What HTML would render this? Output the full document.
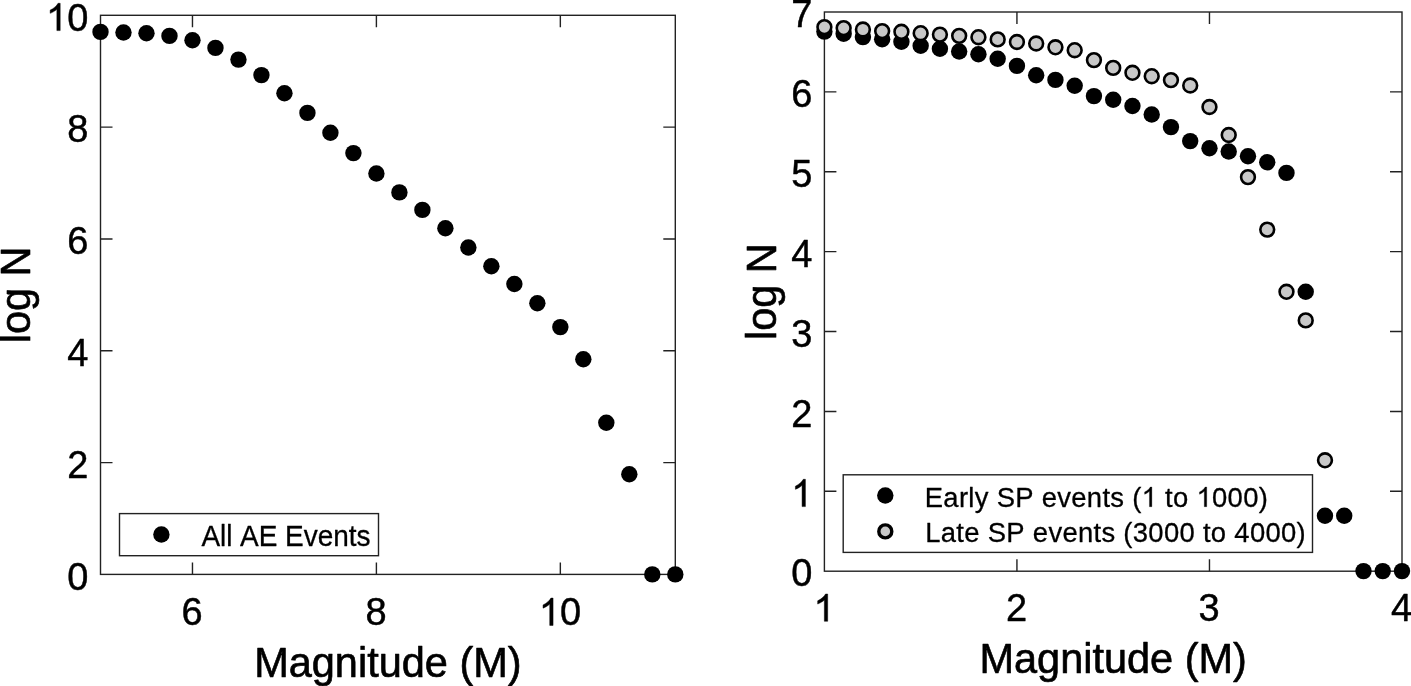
<!DOCTYPE html><html><head><meta charset="utf-8"><style>
html,body{margin:0;padding:0;background:#fff;overflow:hidden;}
svg{display:block;will-change:transform;}
text{font-family:"Liberation Sans",sans-serif;fill:#000;font-kerning:none;stroke-linejoin:round;}
</style></head><body>
<svg width="1411" height="686" viewBox="0 0 1411 686">
<rect width="1411" height="686" fill="#fff"/>
<rect x="100.5" y="15.3" width="574.80" height="559.10" fill="none" stroke="#222" stroke-width="1.4"/>
<path d="M192.47 574.4V562.4M192.47 15.3V27.3M376.40 574.4V562.4M376.40 15.3V27.3M560.34 574.4V562.4M560.34 15.3V27.3M100.5 462.58H112.5M675.3 462.58H663.3M100.5 350.76H112.5M675.3 350.76H663.3M100.5 238.94H112.5M675.3 238.94H663.3M100.5 127.12H112.5M675.3 127.12H663.3" stroke="#222" stroke-width="1.4" fill="none"/>
<text id="t0" x="88.3" y="589.70" transform="translate(0 589.70) scale(1 1.015) translate(0 -589.70)" font-size="38" stroke="#000" stroke-width="0.443" text-anchor="end">0</text>
<text id="t1" x="88.3" y="477.88" transform="translate(0 477.88) scale(1 1.015) translate(0 -477.88)" font-size="38" stroke="#000" stroke-width="0.443" text-anchor="end">2</text>
<text id="t2" x="88.3" y="366.06" transform="translate(0 366.06) scale(1 1.015) translate(0 -366.06)" font-size="38" stroke="#000" stroke-width="0.443" text-anchor="end">4</text>
<text id="t3" x="88.3" y="254.24" transform="translate(0 254.24) scale(1 1.015) translate(0 -254.24)" font-size="38" stroke="#000" stroke-width="0.443" text-anchor="end">6</text>
<text id="t4" x="88.3" y="142.42" transform="translate(0 142.42) scale(1 1.015) translate(0 -142.42)" font-size="38" stroke="#000" stroke-width="0.443" text-anchor="end">8</text>
<text id="t5" x="88.3" y="30.60" transform="translate(0 30.60) scale(1 1.015) translate(0 -30.60)" font-size="38" stroke="#000" stroke-width="0.443" text-anchor="end"> 0</text>
<text id="t6" x="192.17" y="625.4" transform="translate(0 625.4) scale(1 1.015) translate(0 -625.40)" font-size="38" stroke="#000" stroke-width="0.443" text-anchor="middle">6</text>
<text id="t7" x="376.10" y="625.4" transform="translate(0 625.4) scale(1 1.015) translate(0 -625.40)" font-size="38" stroke="#000" stroke-width="0.443" text-anchor="middle">8</text>
<text id="t8" x="560.04" y="625.4" transform="translate(0 625.4) scale(1 1.015) translate(0 -625.40)" font-size="38" stroke="#000" stroke-width="0.443" text-anchor="middle"> 0</text>
<text id="t9" x="387.90" y="676.9" transform="translate(0 676.9) scale(1 1.03) translate(0 -676.90)" font-size="41.5" stroke="#000" stroke-width="0.631" text-anchor="middle">Magnitude (M)</text>
<text id="t10" x="0" y="0" transform="translate(30.4 294.85) rotate(-90) scale(1 1.03)" font-size="41.5" stroke="#000" stroke-width="0.631" text-anchor="middle">log N</text>
<circle cx="100.50" cy="31.9" r="8.2" fill="#000"/>
<circle cx="123.49" cy="32.5" r="8.2" fill="#000"/>
<circle cx="146.48" cy="33.3" r="8.2" fill="#000"/>
<circle cx="169.48" cy="35.9" r="8.2" fill="#000"/>
<circle cx="192.47" cy="40.3" r="8.2" fill="#000"/>
<circle cx="215.46" cy="47.9" r="8.2" fill="#000"/>
<circle cx="238.45" cy="59.6" r="8.2" fill="#000"/>
<circle cx="261.44" cy="75.1" r="8.2" fill="#000"/>
<circle cx="284.44" cy="93.2" r="8.2" fill="#000"/>
<circle cx="307.43" cy="112.9" r="8.2" fill="#000"/>
<circle cx="330.42" cy="132.7" r="8.2" fill="#000"/>
<circle cx="353.41" cy="153.1" r="8.2" fill="#000"/>
<circle cx="376.40" cy="173.5" r="8.2" fill="#000"/>
<circle cx="399.40" cy="192.4" r="8.2" fill="#000"/>
<circle cx="422.39" cy="209.9" r="8.2" fill="#000"/>
<circle cx="445.38" cy="228.3" r="8.2" fill="#000"/>
<circle cx="468.37" cy="247.5" r="8.2" fill="#000"/>
<circle cx="491.36" cy="266.2" r="8.2" fill="#000"/>
<circle cx="514.36" cy="284.0" r="8.2" fill="#000"/>
<circle cx="537.35" cy="303.3" r="8.2" fill="#000"/>
<circle cx="560.34" cy="327.1" r="8.2" fill="#000"/>
<circle cx="583.33" cy="359.3" r="8.2" fill="#000"/>
<circle cx="606.32" cy="422.8" r="8.2" fill="#000"/>
<circle cx="629.32" cy="474.3" r="8.2" fill="#000"/>
<circle cx="652.31" cy="574.4" r="8.2" fill="#000"/>
<circle cx="675.30" cy="574.4" r="8.2" fill="#000"/>
<rect x="119.5" y="513.6" width="259" height="42.1" fill="#fff" stroke="#222" stroke-width="1.4"/>
<circle cx="161.4" cy="534.5" r="8.2" fill="#000"/>
<text id="t11" x="201.4" y="546" transform="translate(0 546) scale(1 1.028) translate(0 -546.00)" font-size="28" stroke="#000" stroke-width="0.292" textLength="169" lengthAdjust="spacing">All AE Events</text>
<rect x="824.4" y="12.0" width="577.60" height="559.20" fill="none" stroke="#222" stroke-width="1.4"/>
<path d="M1016.93 571.2V559.2M1016.93 12.0V24.0M1209.47 571.2V559.2M1209.47 12.0V24.0M824.4 491.31H836.4M1402.0 491.31H1390.0M824.4 411.43H836.4M1402.0 411.43H1390.0M824.4 331.54H836.4M1402.0 331.54H1390.0M824.4 251.66H836.4M1402.0 251.66H1390.0M824.4 171.77H836.4M1402.0 171.77H1390.0M824.4 91.89H836.4M1402.0 91.89H1390.0" stroke="#222" stroke-width="1.4" fill="none"/>
<text id="t12" x="812.4" y="586.50" transform="translate(0 586.50) scale(1 1.015) translate(0 -586.50)" font-size="38" stroke="#000" stroke-width="0.443" text-anchor="end">0</text>
<text id="t13" x="812.4" y="506.61" transform="translate(0 506.61) scale(1 1.015) translate(0 -506.61)" font-size="38" stroke="#000" stroke-width="0.443" text-anchor="end"> </text>
<text id="t14" x="812.4" y="426.73" transform="translate(0 426.73) scale(1 1.015) translate(0 -426.73)" font-size="38" stroke="#000" stroke-width="0.443" text-anchor="end">2</text>
<text id="t15" x="812.4" y="346.84" transform="translate(0 346.84) scale(1 1.015) translate(0 -346.84)" font-size="38" stroke="#000" stroke-width="0.443" text-anchor="end">3</text>
<text id="t16" x="812.4" y="266.96" transform="translate(0 266.96) scale(1 1.015) translate(0 -266.96)" font-size="38" stroke="#000" stroke-width="0.443" text-anchor="end">4</text>
<text id="t17" x="812.4" y="187.07" transform="translate(0 187.07) scale(1 1.015) translate(0 -187.07)" font-size="38" stroke="#000" stroke-width="0.443" text-anchor="end">5</text>
<text id="t18" x="812.4" y="107.19" transform="translate(0 107.19) scale(1 1.015) translate(0 -107.19)" font-size="38" stroke="#000" stroke-width="0.443" text-anchor="end">6</text>
<text id="t19" x="812.4" y="27.30" transform="translate(0 27.30) scale(1 1.015) translate(0 -27.30)" font-size="38" stroke="#000" stroke-width="0.443" text-anchor="end">7</text>
<text id="t20" x="824.10" y="621.3" transform="translate(0 621.3) scale(1 1.015) translate(0 -621.30)" font-size="38" stroke="#000" stroke-width="0.443" text-anchor="middle"> </text>
<text id="t21" x="1016.63" y="621.3" transform="translate(0 621.3) scale(1 1.015) translate(0 -621.30)" font-size="38" stroke="#000" stroke-width="0.443" text-anchor="middle">2</text>
<text id="t22" x="1209.17" y="621.3" transform="translate(0 621.3) scale(1 1.015) translate(0 -621.30)" font-size="38" stroke="#000" stroke-width="0.443" text-anchor="middle">3</text>
<text id="t23" x="1401.70" y="621.3" transform="translate(0 621.3) scale(1 1.015) translate(0 -621.30)" font-size="38" stroke="#000" stroke-width="0.443" text-anchor="middle">4</text>
<text id="t24" x="1113.20" y="673.3" transform="translate(0 673.3) scale(1 1.03) translate(0 -673.30)" font-size="41.5" stroke="#000" stroke-width="0.631" text-anchor="middle">Magnitude (M)</text>
<text id="t25" x="0" y="0" transform="translate(775.6 291.60) rotate(-90) scale(1 1.03)" font-size="41.5" stroke="#000" stroke-width="0.631" text-anchor="middle">log N</text>
<circle cx="824.40" cy="31.6" r="8.2" fill="#000"/>
<circle cx="843.65" cy="33.7" r="8.2" fill="#000"/>
<circle cx="862.91" cy="37.1" r="8.2" fill="#000"/>
<circle cx="882.16" cy="39.2" r="8.2" fill="#000"/>
<circle cx="901.41" cy="41.8" r="8.2" fill="#000"/>
<circle cx="920.67" cy="45.7" r="8.2" fill="#000"/>
<circle cx="939.92" cy="48.8" r="8.2" fill="#000"/>
<circle cx="959.17" cy="51.5" r="8.2" fill="#000"/>
<circle cx="978.43" cy="54.3" r="8.2" fill="#000"/>
<circle cx="997.68" cy="58.7" r="8.2" fill="#000"/>
<circle cx="1016.93" cy="65.9" r="8.2" fill="#000"/>
<circle cx="1036.19" cy="75.3" r="8.2" fill="#000"/>
<circle cx="1055.44" cy="79.9" r="8.2" fill="#000"/>
<circle cx="1074.69" cy="85.7" r="8.2" fill="#000"/>
<circle cx="1093.95" cy="96.1" r="8.2" fill="#000"/>
<circle cx="1113.20" cy="99.7" r="8.2" fill="#000"/>
<circle cx="1132.45" cy="106.0" r="8.2" fill="#000"/>
<circle cx="1151.71" cy="114.5" r="8.2" fill="#000"/>
<circle cx="1170.96" cy="127.1" r="8.2" fill="#000"/>
<circle cx="1190.21" cy="141.1" r="8.2" fill="#000"/>
<circle cx="1209.47" cy="148.3" r="8.2" fill="#000"/>
<circle cx="1228.72" cy="151.5" r="8.2" fill="#000"/>
<circle cx="1247.97" cy="156.2" r="8.2" fill="#000"/>
<circle cx="1267.23" cy="162.3" r="8.2" fill="#000"/>
<circle cx="1286.48" cy="172.9" r="8.2" fill="#000"/>
<circle cx="1305.73" cy="291.8" r="8.2" fill="#000"/>
<circle cx="1324.99" cy="515.8" r="8.2" fill="#000"/>
<circle cx="1344.24" cy="515.8" r="8.2" fill="#000"/>
<circle cx="1363.49" cy="571.1" r="8.2" fill="#000"/>
<circle cx="1382.75" cy="571.1" r="8.2" fill="#000"/>
<circle cx="1402.00" cy="571.1" r="8.2" fill="#000"/>
<circle cx="824.40" cy="27.1" r="6.8999999999999995" fill="#c8c8c8" stroke="#000" stroke-width="2.6"/>
<circle cx="843.65" cy="28.1" r="6.8999999999999995" fill="#c8c8c8" stroke="#000" stroke-width="2.6"/>
<circle cx="862.91" cy="29.5" r="6.8999999999999995" fill="#c8c8c8" stroke="#000" stroke-width="2.6"/>
<circle cx="882.16" cy="31.1" r="6.8999999999999995" fill="#c8c8c8" stroke="#000" stroke-width="2.6"/>
<circle cx="901.41" cy="31.8" r="6.8999999999999995" fill="#c8c8c8" stroke="#000" stroke-width="2.6"/>
<circle cx="920.67" cy="33.2" r="6.8999999999999995" fill="#c8c8c8" stroke="#000" stroke-width="2.6"/>
<circle cx="939.92" cy="34.6" r="6.8999999999999995" fill="#c8c8c8" stroke="#000" stroke-width="2.6"/>
<circle cx="959.17" cy="35.85" r="6.8999999999999995" fill="#c8c8c8" stroke="#000" stroke-width="2.6"/>
<circle cx="978.43" cy="37.2" r="6.8999999999999995" fill="#c8c8c8" stroke="#000" stroke-width="2.6"/>
<circle cx="997.68" cy="39.4" r="6.8999999999999995" fill="#c8c8c8" stroke="#000" stroke-width="2.6"/>
<circle cx="1016.93" cy="42.0" r="6.8999999999999995" fill="#c8c8c8" stroke="#000" stroke-width="2.6"/>
<circle cx="1036.19" cy="43.5" r="6.8999999999999995" fill="#c8c8c8" stroke="#000" stroke-width="2.6"/>
<circle cx="1055.44" cy="47.3" r="6.8999999999999995" fill="#c8c8c8" stroke="#000" stroke-width="2.6"/>
<circle cx="1074.69" cy="50.2" r="6.8999999999999995" fill="#c8c8c8" stroke="#000" stroke-width="2.6"/>
<circle cx="1093.95" cy="60.1" r="6.8999999999999995" fill="#c8c8c8" stroke="#000" stroke-width="2.6"/>
<circle cx="1113.20" cy="67.9" r="6.8999999999999995" fill="#c8c8c8" stroke="#000" stroke-width="2.6"/>
<circle cx="1132.45" cy="72.8" r="6.8999999999999995" fill="#c8c8c8" stroke="#000" stroke-width="2.6"/>
<circle cx="1151.71" cy="76.2" r="6.8999999999999995" fill="#c8c8c8" stroke="#000" stroke-width="2.6"/>
<circle cx="1170.96" cy="80.1" r="6.8999999999999995" fill="#c8c8c8" stroke="#000" stroke-width="2.6"/>
<circle cx="1190.21" cy="85.5" r="6.8999999999999995" fill="#c8c8c8" stroke="#000" stroke-width="2.6"/>
<circle cx="1209.47" cy="107.0" r="6.8999999999999995" fill="#c8c8c8" stroke="#000" stroke-width="2.6"/>
<circle cx="1228.72" cy="135.0" r="6.8999999999999995" fill="#c8c8c8" stroke="#000" stroke-width="2.6"/>
<circle cx="1247.97" cy="177.1" r="6.8999999999999995" fill="#c8c8c8" stroke="#000" stroke-width="2.6"/>
<circle cx="1267.23" cy="229.6" r="6.8999999999999995" fill="#c8c8c8" stroke="#000" stroke-width="2.6"/>
<circle cx="1286.48" cy="291.8" r="6.8999999999999995" fill="#c8c8c8" stroke="#000" stroke-width="2.6"/>
<circle cx="1305.73" cy="320.4" r="6.8999999999999995" fill="#c8c8c8" stroke="#000" stroke-width="2.6"/>
<circle cx="1324.99" cy="460.3" r="6.8999999999999995" fill="#c8c8c8" stroke="#000" stroke-width="2.6"/>
<rect x="843.2" y="474.8" width="469.3" height="77.6" fill="#fff" stroke="#222" stroke-width="1.4"/>
<circle cx="885.3" cy="495.5" r="8.2" fill="#000"/>
<circle cx="885.3" cy="531.4" r="6.499999999999999" fill="#c8c8c8" stroke="#000" stroke-width="3.4"/>
<text id="t26" x="924.8" y="506.7" transform="translate(0 506.7) scale(1 1.028) translate(0 -506.70)" font-size="27.4" stroke="#000" stroke-width="0.292" textLength="343" lengthAdjust="spacing">Early SP events (  to  000)</text>
<text id="t27" x="925.2" y="542.4" transform="translate(0 542.4) scale(1 1.028) translate(0 -542.40)" font-size="27.4" stroke="#000" stroke-width="0.292" textLength="380.5" lengthAdjust="spacing">Late SP events (3000 to 4000)</text>
<g transform="translate(0 30.60) scale(1 1.015) translate(0 -30.60)"><path transform="translate(46.04 30.60) scale(0.01855 -0.01828)" d="M763 0H583V1147Q518 1085 412.5 1023Q307 961 223 930V1104Q374 1175 487 1276Q600 1377 647 1472H763Z" fill="#000" stroke="#000" stroke-width="24.3" stroke-linejoin="round"/></g>
<g transform="translate(0 625.4) scale(1 1.015) translate(0 -625.40)"><path transform="translate(538.91 625.40) scale(0.01855 -0.01828)" d="M763 0H583V1147Q518 1085 412.5 1023Q307 961 223 930V1104Q374 1175 487 1276Q600 1377 647 1472H763Z" fill="#000" stroke="#000" stroke-width="24.3" stroke-linejoin="round"/></g>
<g transform="translate(0 506.61) scale(1 1.015) translate(0 -506.61)"><path transform="translate(791.26 506.61) scale(0.01855 -0.01828)" d="M763 0H583V1147Q518 1085 412.5 1023Q307 961 223 930V1104Q374 1175 487 1276Q600 1377 647 1472H763Z" fill="#000" stroke="#000" stroke-width="24.3" stroke-linejoin="round"/></g>
<g transform="translate(0 621.3) scale(1 1.015) translate(0 -621.30)"><path transform="translate(813.53 621.30) scale(0.01855 -0.01828)" d="M763 0H583V1147Q518 1085 412.5 1023Q307 961 223 930V1104Q374 1175 487 1276Q600 1377 647 1472H763Z" fill="#000" stroke="#000" stroke-width="24.3" stroke-linejoin="round"/></g>
<g transform="translate(0 506.7) scale(1 1.028) translate(0 -506.70)"><path transform="translate(1141.65 506.70) scale(0.01338 -0.01301)" d="M763 0H583V1147Q518 1085 412.5 1023Q307 961 223 930V1104Q374 1175 487 1276Q600 1377 647 1472H763Z" fill="#000" stroke="#000" stroke-width="22.4" stroke-linejoin="round"/></g>
<g transform="translate(0 506.7) scale(1 1.028) translate(0 -506.70)"><path transform="translate(1196.50 506.70) scale(0.01338 -0.01301)" d="M763 0H583V1147Q518 1085 412.5 1023Q307 961 223 930V1104Q374 1175 487 1276Q600 1377 647 1472H763Z" fill="#000" stroke="#000" stroke-width="22.4" stroke-linejoin="round"/></g>
</svg></body></html>
